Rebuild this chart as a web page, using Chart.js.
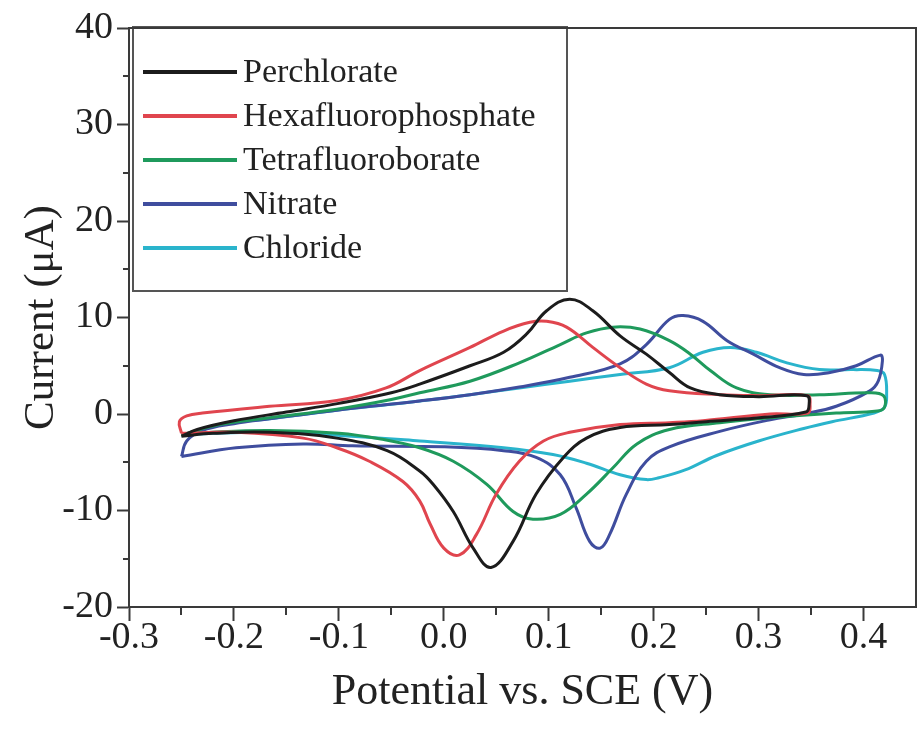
<!DOCTYPE html>
<html>
<head>
<meta charset="utf-8">
<script src="https://cdn.jsdelivr.net/npm/chart.js@4/dist/chart.umd.min.js"></script>
<style>
  html, body { margin: 0; padding: 0; background: #fff; }
  #wrap { width: 924px; height: 729px; }
</style>
</head>
<body>
<div id="wrap"><canvas id="cvChart" width="924" height="729"></canvas></div>
<script>
// series labels and colours
const seriesNames = ["Perchlorate", "Hexafluorophosphate", "Tetrafluoroborate", "Nitrate", "Chloride"];
const seriesColors = ["#1c1c1c", "#e0454e", "#1f9a5c", "#3f4d9e", "#2ab4cc"];

// [potential V, current uA], one loop per anion
const perchlorate = [
  [-0.25, -2.3], [-0.235, -1.6], [-0.2, -0.7], [-0.15, 0.2], [-0.1, 1.1], [-0.05, 2.2], [-0.023, 3.1],
  [0.025, 5.0], [0.057, 6.4], [0.079, 8.3], [0.098, 10.7], [0.12, 11.9], [0.142, 10.7], [0.168, 8.1],
  [0.193, 6.2], [0.215, 4.3], [0.235, 2.7], [0.263, 2.0], [0.3, 1.8], [0.346, 1.9], [0.348, 0.8],
  [0.345, 0.2], [0.3, -0.4], [0.25, -0.8], [0.215, -1.1], [0.168, -1.4], [0.136, -2.5], [0.114, -4.5],
  [0.088, -8.3], [0.066, -13.2], [0.045, -15.9], [0.028, -13.9], [0.009, -10.1], [-0.01, -7.3],
  [-0.023, -5.9], [-0.054, -3.8], [-0.102, -2.5], [-0.166, -1.9], [-0.22, -2.0], [-0.25, -2.3]
];
const hexafluorophosphate = [
  [-0.25, -2.0], [-0.252, -0.8], [-0.245, -0.2], [-0.23, 0.1], [-0.166, 0.8], [-0.102, 1.4],
  [-0.055, 2.7], [-0.023, 4.5], [0.025, 6.9], [0.057, 8.6], [0.082, 9.5], [0.098, 9.6], [0.117, 9.0],
  [0.142, 6.9], [0.168, 4.8], [0.193, 3.1], [0.215, 2.4], [0.263, 2.0], [0.3, 1.9], [0.347, 1.9],
  [0.349, 1.0], [0.347, 0.1], [0.311, 0.0], [0.247, -0.7], [0.215, -0.9], [0.168, -1.1], [0.12, -1.9],
  [0.095, -2.8], [0.072, -4.9], [0.05, -8.3], [0.031, -12.5], [0.015, -14.6], [0.0, -13.9],
  [-0.013, -11.4], [-0.023, -9.0], [-0.039, -7.0], [-0.071, -4.9], [-0.102, -3.5], [-0.134, -2.5],
  [-0.198, -1.9], [-0.25, -2.0]
];
const tetrafluoroborate = [
  [-0.25, -2.2], [-0.214, -1.1], [-0.166, -0.4], [-0.102, 0.5], [-0.05, 1.5], [-0.023, 2.2],
  [0.025, 3.4], [0.072, 5.3], [0.111, 7.2], [0.136, 8.4], [0.161, 9.0], [0.187, 8.8], [0.215, 7.6],
  [0.235, 6.2], [0.254, 4.5], [0.279, 2.7], [0.311, 2.0], [0.358, 2.0], [0.406, 2.2], [0.419, 1.9],
  [0.42, 0.7], [0.413, 0.3], [0.374, 0.1], [0.311, -0.4], [0.263, -0.9], [0.215, -1.6], [0.184, -3.1],
  [0.161, -5.6], [0.136, -8.3], [0.111, -10.4], [0.085, -10.9], [0.066, -10.1], [0.041, -7.3],
  [0.009, -4.9], [-0.023, -3.5], [-0.06, -2.6], [-0.1, -2.0], [-0.166, -1.7], [-0.22, -1.9], [-0.25, -2.2]
];
const nitrate = [
  [-0.25, -4.4], [-0.245, -2.8], [-0.23, -1.7], [-0.2, -1.0], [-0.166, -0.5], [-0.102, 0.4],
  [-0.023, 1.35], [0.025, 2.0], [0.072, 2.8], [0.12, 3.8], [0.168, 5.2], [0.193, 7.2], [0.215, 9.8],
  [0.228, 10.2], [0.247, 9.6], [0.27, 7.6], [0.295, 6.2], [0.32, 4.8], [0.343, 4.1], [0.368, 4.3],
  [0.393, 5.0], [0.416, 6.1], [0.418, 5.5], [0.414, 3.4], [0.406, 2.4], [0.374, 0.8], [0.343, 0.0],
  [0.311, -0.6], [0.263, -1.8], [0.215, -3.4], [0.193, -4.9], [0.174, -8.3], [0.158, -12.5],
  [0.149, -13.9], [0.139, -13.2], [0.126, -9.7], [0.111, -6.3], [0.088, -4.5], [0.057, -3.8],
  [0.0, -3.4], [-0.087, -3.3], [-0.134, -3.1], [-0.198, -3.5], [-0.25, -4.4]
];
const chloride = [
  [-0.25, -2.2], [-0.214, -1.1], [-0.166, -0.5], [-0.102, 0.4], [-0.05, 1.0], [-0.023, 1.35],
  [0.025, 2.0], [0.072, 2.7], [0.12, 3.4], [0.168, 4.1], [0.215, 4.8], [0.247, 6.4], [0.273, 6.9],
  [0.298, 6.4], [0.327, 5.3], [0.358, 4.6], [0.39, 4.6], [0.413, 4.5], [0.42, 4.1], [0.422, 2.0],
  [0.42, 0.7], [0.41, 0.1], [0.37, -0.8], [0.343, -1.5], [0.3, -2.8], [0.26, -4.3], [0.23, -5.8],
  [0.205, -6.6], [0.193, -6.8], [0.168, -6.3], [0.136, -5.1], [0.104, -4.2], [0.057, -3.5],
  [-0.023, -2.8], [-0.102, -2.2], [-0.166, -1.9], [-0.22, -2.0], [-0.25, -2.2]
];

// axis ranges and ticks
const xRange = [-0.3, 0.45];
const yRange = [-20, 40];
const xTickValues = [-0.3, -0.2, -0.1, 0.0, 0.1, 0.2, 0.3, 0.4];
const xMinorValues = [-0.25, -0.15, -0.05, 0.05, 0.15, 0.25, 0.35];
const yTickValues = [-20, -10, 0, 10, 20, 30, 40];
const yMinorValues = [-15, -5, 5, 15, 25, 35];

const seriesData = [perchlorate, hexafluorophosphate, tetrafluoroborate, nitrate, chloride];
const FONT = "'Liberation Serif', 'Times New Roman', serif";
const AXIS = "#3a3a3a";

// minor ticks + top/right frame
const framePlugin = {
  id: "frame",
  afterDraw(chart) {
    const { ctx, chartArea: a, scales } = chart;
    ctx.save();
    ctx.strokeStyle = AXIS;
    ctx.lineWidth = 2;
    ctx.strokeRect(a.left, a.top, a.right - a.left, a.bottom - a.top);

    xMinorValues.forEach(v => {
      const px = Math.round(scales.x.getPixelForValue(v));
      ctx.beginPath();
      ctx.moveTo(px, a.bottom);
      ctx.lineTo(px, a.bottom + 8);
      ctx.stroke();
    });
    yMinorValues.forEach(v => {
      const py = Math.round(scales.y.getPixelForValue(v));
      ctx.beginPath();
      ctx.moveTo(a.left, py);
      ctx.lineTo(a.left - 6, py);
      ctx.stroke();
    });
    ctx.restore();
  }
};

// boxed legend in the upper left corner of the plot
const legendBoxPlugin = {
  id: "legendBox",
  afterDatasetsDraw(chart) {
    const { ctx, chartArea: a } = chart;
    const left = a.left + 4;
    const top = a.top - 1;
    ctx.save();
    ctx.fillStyle = "#fff";
    ctx.fillRect(left, top, 434, 264);
    ctx.strokeStyle = "#555";
    ctx.lineWidth = 2;
    ctx.strokeRect(left, top, 434, 264);
    ctx.font = "34px " + FONT;
    ctx.textBaseline = "middle";
    chart.data.datasets.forEach((ds, i) => {
      const y = top + 45 + i * 44;
      ctx.strokeStyle = ds.borderColor;
      ctx.lineWidth = 4;
      ctx.beginPath();
      ctx.moveTo(left + 10, y);
      ctx.lineTo(left + 104, y);
      ctx.stroke();
      ctx.fillStyle = "#222";
      ctx.fillText(ds.label, left + 110, y + 1);
    });
    ctx.restore();
  }
};

const fmtX = v => (Math.abs(v) < 1e-9 ? 0 : v).toFixed(1);

new Chart(document.getElementById("cvChart"), {
  type: "scatter",
  data: {
    datasets: seriesData.map((pts, i) => ({
      label: seriesNames[i],
      data: pts.map(([x, y]) => ({ x, y })),
      showLine: true,
      borderColor: seriesColors[i],
      backgroundColor: seriesColors[i],
      borderWidth: 3,
      pointRadius: 0,
      tension: 0.4
    }))
  },
  options: {
    responsive: false,
    animation: false,
    layout: { padding: { top: 28, right: 8, left: 0, bottom: 0 } },
    plugins: {
      legend: { display: false },
      tooltip: { enabled: false }
    },
    scales: {
      x: {
        type: "linear",
        min: xRange[0],
        max: xRange[1],
        border: { display: true, color: AXIS, width: 2 },
        grid: { drawOnChartArea: false, tickLength: 14, tickColor: AXIS, tickWidth: 2 },
        afterBuildTicks: s => { s.ticks = xTickValues.map(value => ({ value })); },
        ticks: {
          autoSkip: false,
          padding: 0,
          color: "#222",
          font: { family: FONT, size: 38, lineHeight: 0.9 },
          callback: v => fmtX(v),
          maxRotation: 0
        },
        title: {
          display: true,
          text: "Potential vs. SCE (V)",
          color: "#222",
          font: { family: FONT, size: 44, lineHeight: 1.2 },
          padding: { top: 0, bottom: 10 }
        },
        afterFit: s => { s.height = 122; }
      },
      y: {
        type: "linear",
        min: yRange[0],
        max: yRange[1],
        border: { display: true, color: AXIS, width: 2 },
        grid: { drawOnChartArea: false, tickLength: 12, tickColor: AXIS, tickWidth: 2 },
        afterBuildTicks: s => { s.ticks = yTickValues.map(value => ({ value })); },
        ticks: {
          padding: 4,
          color: "#222",
          font: { family: FONT, size: 38 }
        },
        title: {
          display: true,
          text: "Current (\u03bcA)",
          color: "#222",
          font: { family: FONT, size: 43, lineHeight: 1.2 },
          padding: { top: 16, bottom: 0 }
        },
        afterFit: s => { s.width = 129; }
      }
    }
  },
  plugins: [framePlugin, legendBoxPlugin]
});
</script>
</body>
</html>
